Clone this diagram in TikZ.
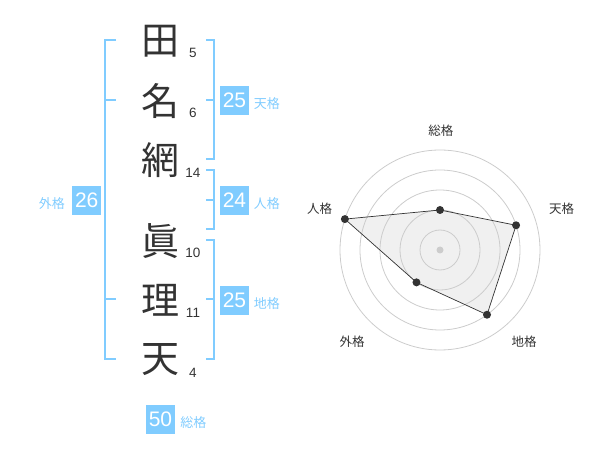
\documentclass[tikz,border=0pt]{standalone}
\usepackage{fontspec}
\setmainfont{Liberation Sans}
\newfontfamily\jpfont{Noto Sans CJK JP}
\usetikzlibrary{positioning}
\definecolor{kakublue}{HTML}{80CCFF}
\definecolor{ink}{HTML}{333333}
\definecolor{ringgray}{HTML}{CCCCCC}

\begin{document}
\begin{tikzpicture}[x=1pt,y=-1pt,line join=miter,
    kanji/.style={inner sep=0pt,text=ink,font=\jpfont\fontsize{38}{38}\selectfont},
    kakusu/.style={inner sep=0pt,text=ink,font=\fontsize{13.5}{14}\selectfont},
    kakubox/.style={fill=kakublue,text=white,minimum size=29pt,inner sep=0pt,font=\fontsize{21}{21}\selectfont},
    kakuname/.style={inner sep=0pt,text=kakublue,font=\jpfont\fontsize{13}{13}\selectfont},
    bracket/.style={draw=kakublue,line width=2pt},
    axisname/.style={inner sep=0pt,text=ink,font=\jpfont\fontsize{12.5}{13}\selectfont}]
  \useasboundingbox (0,0) rectangle (600,470);

  % name, stroke counts
  \foreach \ch/\y/\strk/\sy [count=\i] in {田/41/5/52.7,名/101/6/112.7,網/160/14/173.3,
      眞/241/10/252.7,理/300/11/313.3,天/360/4/373}{
    \node[kanji] (kanji\i) at (160,\y) {\ch};
    \node[kakusu] (kakusu\i) at (193,\sy) {\strk};
  }

  % brackets
  \draw[bracket] (116,40) -- (105,40) -- (105,359.3) -- (116,359.3);
  \draw[bracket] (105,100) -- (116,100) (105,299.3) -- (116,299.3);
  \draw[bracket] (206,40) -- (214,40) -- (214,159.3) -- (206,159.3);
  \draw[bracket] (214,100) -- (206,100);
  \draw[bracket] (206,170) -- (214,170) -- (214,229.3) -- (206,229.3);
  \draw[bracket] (214,200) -- (206,200);
  \draw[bracket] (206,240) -- (214,240) -- (214,359.3) -- (206,359.3);
  \draw[bracket] (214,299.3) -- (206,299.3);

  \node[kakubox] (tenbox) at (234.5,100.3) {25};
  \node[kakuname,right=4.5pt of tenbox,yshift=-3.5pt] (tenname) {天格};
  \node[kakubox] (jinbox) at (234.5,200.3) {24};
  \node[kakuname,right=4.5pt of jinbox,yshift=-3.5pt] (jinname) {人格};
  \node[kakubox] (chibox) at (234.5,300.3) {25};
  \node[kakuname,right=4.5pt of chibox,yshift=-3.5pt] (chiname) {地格};
  \node[kakubox] (gaibox) at (86.7,200.3) {26};
  \node[kakuname,left=7pt of gaibox,yshift=-3.5pt] (gainame) {外格};
  \node[kakubox] (soubox) at (160.5,419) {50};
  \node[kakuname,right=5pt of soubox,yshift=-3.5pt] (souname) {総格};

  % radar
  \begin{scope}[shift={(440,250)},yscale=-1]
    \coordinate (sou) at (90:40);
    \coordinate (ten) at (18:80);
    \coordinate (chi) at (-54:80);
    \coordinate (gai) at (-126:40);
    \coordinate (jin) at (162:100);
    \fill[black!6] (sou) -- (ten) -- (chi) -- (gai) -- (jin) -- cycle;
    \foreach \r in {20,40,...,100}
      \draw[ringgray,line width=0.8pt] (0,0) circle (\r);
    \fill[ringgray] (0,0) circle (3.5);
    \draw[ink,line width=0.7pt] (sou) -- (ten) -- (chi) -- (gai) -- (jin) -- cycle;
    \foreach \p in {sou,ten,chi,gai,jin}
      \fill[ink] (\p) circle (4);
  \end{scope}
  \node[axisname] (soulabel) at (440.8,130.5) {総格};
  \node[axisname] (tenlabel) at (561.7,208.7) {天格};
  \node[axisname] (chilabel) at (524,342) {地格};
  \node[axisname] (gailabel) at (352,342) {外格};
  \node[axisname] (jinlabel) at (319.5,208.7) {人格};
\end{tikzpicture}
\end{document}
